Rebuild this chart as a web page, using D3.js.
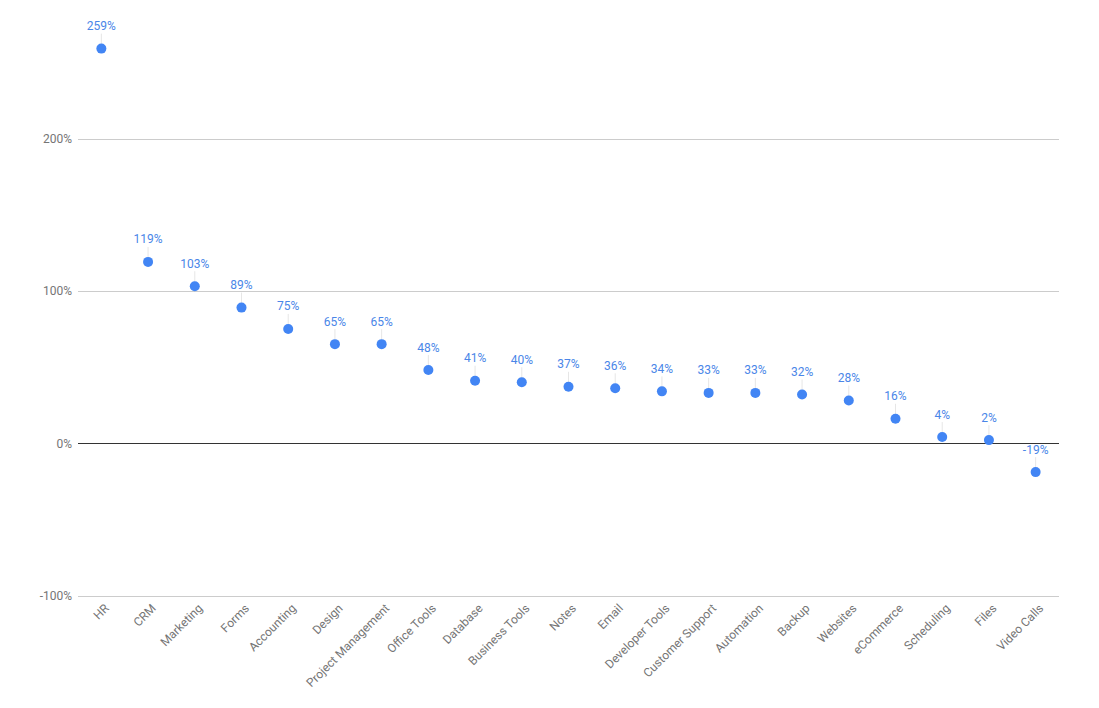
<!DOCTYPE html>
<html><head><meta charset="utf-8">
<script src="https://cdn.jsdelivr.net/npm/d3@7"></script>
<style>body{margin:0;background:#fff}text{font-family:Roboto,Arial,sans-serif}</style>
</head><body><svg id="c" width="1099" height="708"></svg>
<script>
const categories = ["HR","CRM","Marketing","Forms","Accounting","Design","Project Management","Office Tools","Database","Business Tools","Notes","Email","Developer Tools","Customer Support","Automation","Backup","Websites","eCommerce","Scheduling","Files","Video Calls"];
const values = [259,119,103,89,75,65,65,48,41,40,37,36,34,33,33,32,28,16,4,2,-19];
const yTicks = [-100,0,100,200];

const svg = d3.select("#c");
const x = d3.scaleBand().domain(categories).range([78,1059]);
const y = d3.scaleLinear().domain([-100,200]).range([595.5,138.5]);
const fmt = v => v + "%";

const g = svg.append("g");
g.selectAll("line.grid").data(yTicks).join("line")
  .attr("x1",78).attr("x2",1059)
  .attr("y1",d=>Math.round(y(d))+0.5).attr("y2",d=>Math.round(y(d))+0.5)
  .attr("stroke",d=>d===0?"#333":"#ccc").attr("stroke-width",1);
g.selectAll("text.yl").data(yTicks).join("text")
  .attr("x",72).attr("y",d=>y(d)+4.5).attr("text-anchor","end")
  .attr("font-size",12).attr("fill","#757575").text(fmt);

const cx = d => x(d) + x.bandwidth()/2;
g.selectAll("text.xl").data(categories).join("text")
  .attr("transform",d=>`translate(${cx(d)+8.5},${609}) rotate(-45)`)
  .attr("text-anchor","end").attr("font-size",12).attr("fill","#757575").text(d=>d);

const pts = categories.map((c,i)=>({c,v:values[i]}));
g.selectAll("line.lead").data(pts).join("line")
  .attr("x1",d=>cx(d.c)).attr("x2",d=>cx(d.c))
  .attr("y1",d=>y(d.v)-15).attr("y2",d=>y(d.v)-4)
  .attr("stroke","#e6e6e6").attr("stroke-width",1);
g.selectAll("circle").data(pts).join("circle")
  .attr("cx",d=>cx(d.c)).attr("cy",d=>y(d.v)).attr("r",5).attr("fill","#4285f4");
g.selectAll("text.dl").data(pts).join("text")
  .attr("x",d=>cx(d.c)).attr("y",d=>y(d.v)-18.5).attr("text-anchor","middle")
  .attr("font-size",12).attr("fill","#4a86e8").text(d=>fmt(d.v));
</script></body></html>
